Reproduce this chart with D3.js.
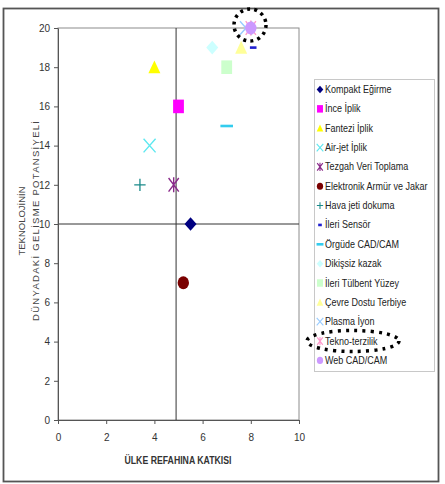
<!DOCTYPE html>
<html>
<head>
<meta charset="utf-8">
<script src="https://cdn.jsdelivr.net/npm/d3@7"></script>
<style>
  html, body { margin: 0; padding: 0; background: #fff; }
  svg { display: block; font-family: "Liberation Sans", Arial, sans-serif; }
</style>
</head>
<body>
<svg id="chart" width="445" height="484"></svg>
<script>
// ---- data ----
const seriesNames = [
  "Kompakt Eğirme", "İnce İplik", "Fantezi İplik", "Air-jet İplik",
  "Tezgah Veri Toplama", "Elektronik Armür ve Jakar", "Hava jeti dokuma",
  "İleri Sensör", "Örgüde CAD/CAM", "Dikişsiz kazak", "İleri Tülbent Yüzey",
  "Çevre Dostu Terbiye", "Plasma İyon", "Tekno-terzilik", "Web CAD/CAM"
];
const xValues = [5.5, 5.0, 4.0, 3.8, 4.8, 5.2, 3.4, 8.1, 7.0, 6.4, 7.0, 7.6, 7.8, 8.0, 8.0];
const yValues = [10, 16, 18, 14, 12, 7, 12, 19, 15, 19, 18, 19, 20, 20, 20];
const xTicks = [0, 2, 4, 6, 8, 10];
const yTicks = [0, 2, 4, 6, 8, 10, 12, 14, 16, 18, 20];
const dividerX = 4.9;
const dividerY = 10;
const xTitle = "ÜLKE  REFAHINA KATKISI";
const yTitle1 = "TEKNOLOJİNİN";
const yTitle2 = "DÜNYADAKİ GELİSME POTANSİYELİ";

// ---- styles ----
const symbolTypes = ["diamond", "square", "triangle", "x", "star", "circle", "plus",
  "shortdash", "longdash", "diamond", "square", "triangle", "x", "star", "circle"];
const colors = ["#000080", "#ff00ff", "#ffff00", "#5ee8f0", "#8a2a8a", "#7a0000", "#1a8a8a",
  "#2020d0", "#33ccee", "#ccffff", "#ccffcc", "#ffff99", "#99ccff", "#ff99cc", "#cc99ff"];

const svg = d3.select("#chart");

// outer border
svg.append("rect").attr("x", 3.5).attr("y", 8.5).attr("width", 435).attr("height", 473)
  .attr("fill", "#fff").attr("stroke", "#555").attr("stroke-width", 1.8);

const x = d3.scaleLinear().domain([0, 10]).range([58, 299]);
const y = d3.scaleLinear().domain([0, 20]).range([420, 28]);

// plot area frame (top/right)
svg.append("rect").attr("x", x(0)).attr("y", y(20)).attr("width", x(10) - x(0)).attr("height", y(0) - y(20))
  .attr("fill", "#fff").attr("stroke", "#8c8c8c").attr("stroke-width", 1);

// divider lines
svg.append("line").attr("x1", x(dividerX)).attr("x2", x(dividerX)).attr("y1", y(20)).attr("y2", y(0))
  .attr("stroke", "#333").attr("stroke-width", 1);
svg.append("line").attr("x1", x(0)).attr("x2", x(10)).attr("y1", y(dividerY)).attr("y2", y(dividerY))
  .attr("stroke", "#333").attr("stroke-width", 1);

// axes
const yAxis = svg.append("g").attr("transform", `translate(${x(0)},0)`)
  .call(d3.axisLeft(y).tickValues(yTicks).tickSize(4).tickPadding(4).tickSizeOuter(0));
const xAxis = svg.append("g").attr("transform", `translate(0,${y(0)})`)
  .call(d3.axisBottom(x).tickValues(xTicks).tickSize(4).tickPadding(10).tickSizeOuter(0));
[xAxis, yAxis].forEach(g => {
  g.select(".domain").attr("stroke", "#555");
  g.selectAll(".tick line").attr("stroke", "#555");
  g.selectAll("text").attr("fill", "#333").attr("font-size", 10).attr("font-family", "Liberation Sans, Arial, sans-serif");
});

// axis titles
svg.append("text").attr("x", 178).attr("y", 464).attr("text-anchor", "middle")
  .attr("font-size", 10).attr("font-weight", "bold").attr("fill", "#333")
  .attr("textLength", 107).attr("lengthAdjust", "spacingAndGlyphs").text(xTitle);
svg.append("text").attr("transform", "translate(25,221) rotate(-90)").attr("text-anchor", "middle")
  .attr("font-size", 9.5).attr("fill", "#444").text(yTitle1);
svg.append("text").attr("transform", "translate(39,221) rotate(-90)").attr("text-anchor", "middle")
  .attr("font-size", 9.5).attr("fill", "#444")
  .attr("textLength", 200).attr("lengthAdjust", "spacing").text(yTitle2);

// marker drawing
function drawMarker(g, type, color, s) {
  const w = 6 * s, h = 6.8 * s;
  switch (type) {
    case "diamond":
      g.append("path").attr("d", `M0,${-h}L${w},0L0,${h}L${-w},0Z`).attr("fill", color);
      break;
    case "square":
      g.append("rect").attr("x", -w * 0.9).attr("y", -h).attr("width", w * 1.8).attr("height", h * 2).attr("fill", color);
      break;
    case "triangle":
      g.append("path").attr("d", `M0,${-h}L${w},${h * 0.9}L${-w},${h * 0.9}Z`).attr("fill", color);
      break;
    case "circle":
      g.append("ellipse").attr("rx", w * 0.95).attr("ry", h * 0.95).attr("fill", color);
      break;
    case "x":
      g.append("path").attr("d", `M${-w},${-h}L${w},${h}M${w},${-h}L${-w},${h}`)
        .attr("stroke", color).attr("stroke-width", 1.4 * Math.max(s, 0.8)).attr("fill", "none");
      break;
    case "star":
      g.append("path").attr("d", `M${-w * 0.85},${-h}L${w * 0.85},${h}M${w * 0.85},${-h}L${-w * 0.85},${h}M0,${-h * 1.1}L0,${h * 1.1}`)
        .attr("stroke", color).attr("stroke-width", 1.4 * Math.max(s, 0.8)).attr("fill", "none");
      break;
    case "plus":
      g.append("path").attr("d", `M${-w * 0.95},0L${w * 0.95},0M0,${-h * 0.9}L0,${h * 0.9}`)
        .attr("stroke", color).attr("stroke-width", 1.3 * Math.max(s, 0.8)).attr("fill", "none");
      break;
    case "shortdash":
      g.append("rect").attr("x", -3.3 * s).attr("y", -1.3).attr("width", 6.6 * s).attr("height", 2.6).attr("fill", color);
      break;
    case "longdash":
      g.append("rect").attr("x", -6.3 * s).attr("y", -1.3).attr("width", 12.6 * s).attr("height", 2.6).attr("fill", color);
      break;
  }
}

// points (later series on top)
const pts = seriesNames.map((n, i) => ({ name: n, x: xValues[i], y: yValues[i], type: symbolTypes[i], color: colors[i] }));
const pg = svg.append("g");
pts.forEach(d => {
  const g = pg.append("g").attr("transform", `translate(${x(d.x)},${y(d.y)})`);
  drawMarker(g, d.type, d.color, 1);
});

// legend
const lg = svg.append("g");
lg.append("rect").attr("x", 314.5).attr("y", 79.5).attr("width", 120).attr("height", 292)
  .attr("fill", "#fff").attr("stroke", "#c8c8c8").attr("stroke-width", 1);
seriesNames.forEach((n, i) => {
  const yy = 89.5 + i * 19.35;
  const g = lg.append("g").attr("transform", `translate(320,${yy})`);
  drawMarker(g, symbolTypes[i], colors[i], 0.55);
  lg.append("text").attr("transform", `translate(325,${yy + 3.5}) scale(0.9,1)`)
    .attr("font-size", 10).attr("fill", "#222").text(n);
});

// dotted highlight circles
svg.append("circle").attr("cx", 250).attr("cy", 25).attr("r", 16)
  .attr("fill", "none").attr("stroke", "#000").attr("stroke-width", 3.5).attr("stroke-dasharray", "3 4.2");
svg.append("ellipse").attr("cx", 353).attr("cy", 341).attr("rx", 46).attr("ry", 10.5)
  .attr("fill", "none").attr("stroke", "#000").attr("stroke-width", 3.5).attr("stroke-dasharray", "3 5.2");
</script>
</body>
</html>
